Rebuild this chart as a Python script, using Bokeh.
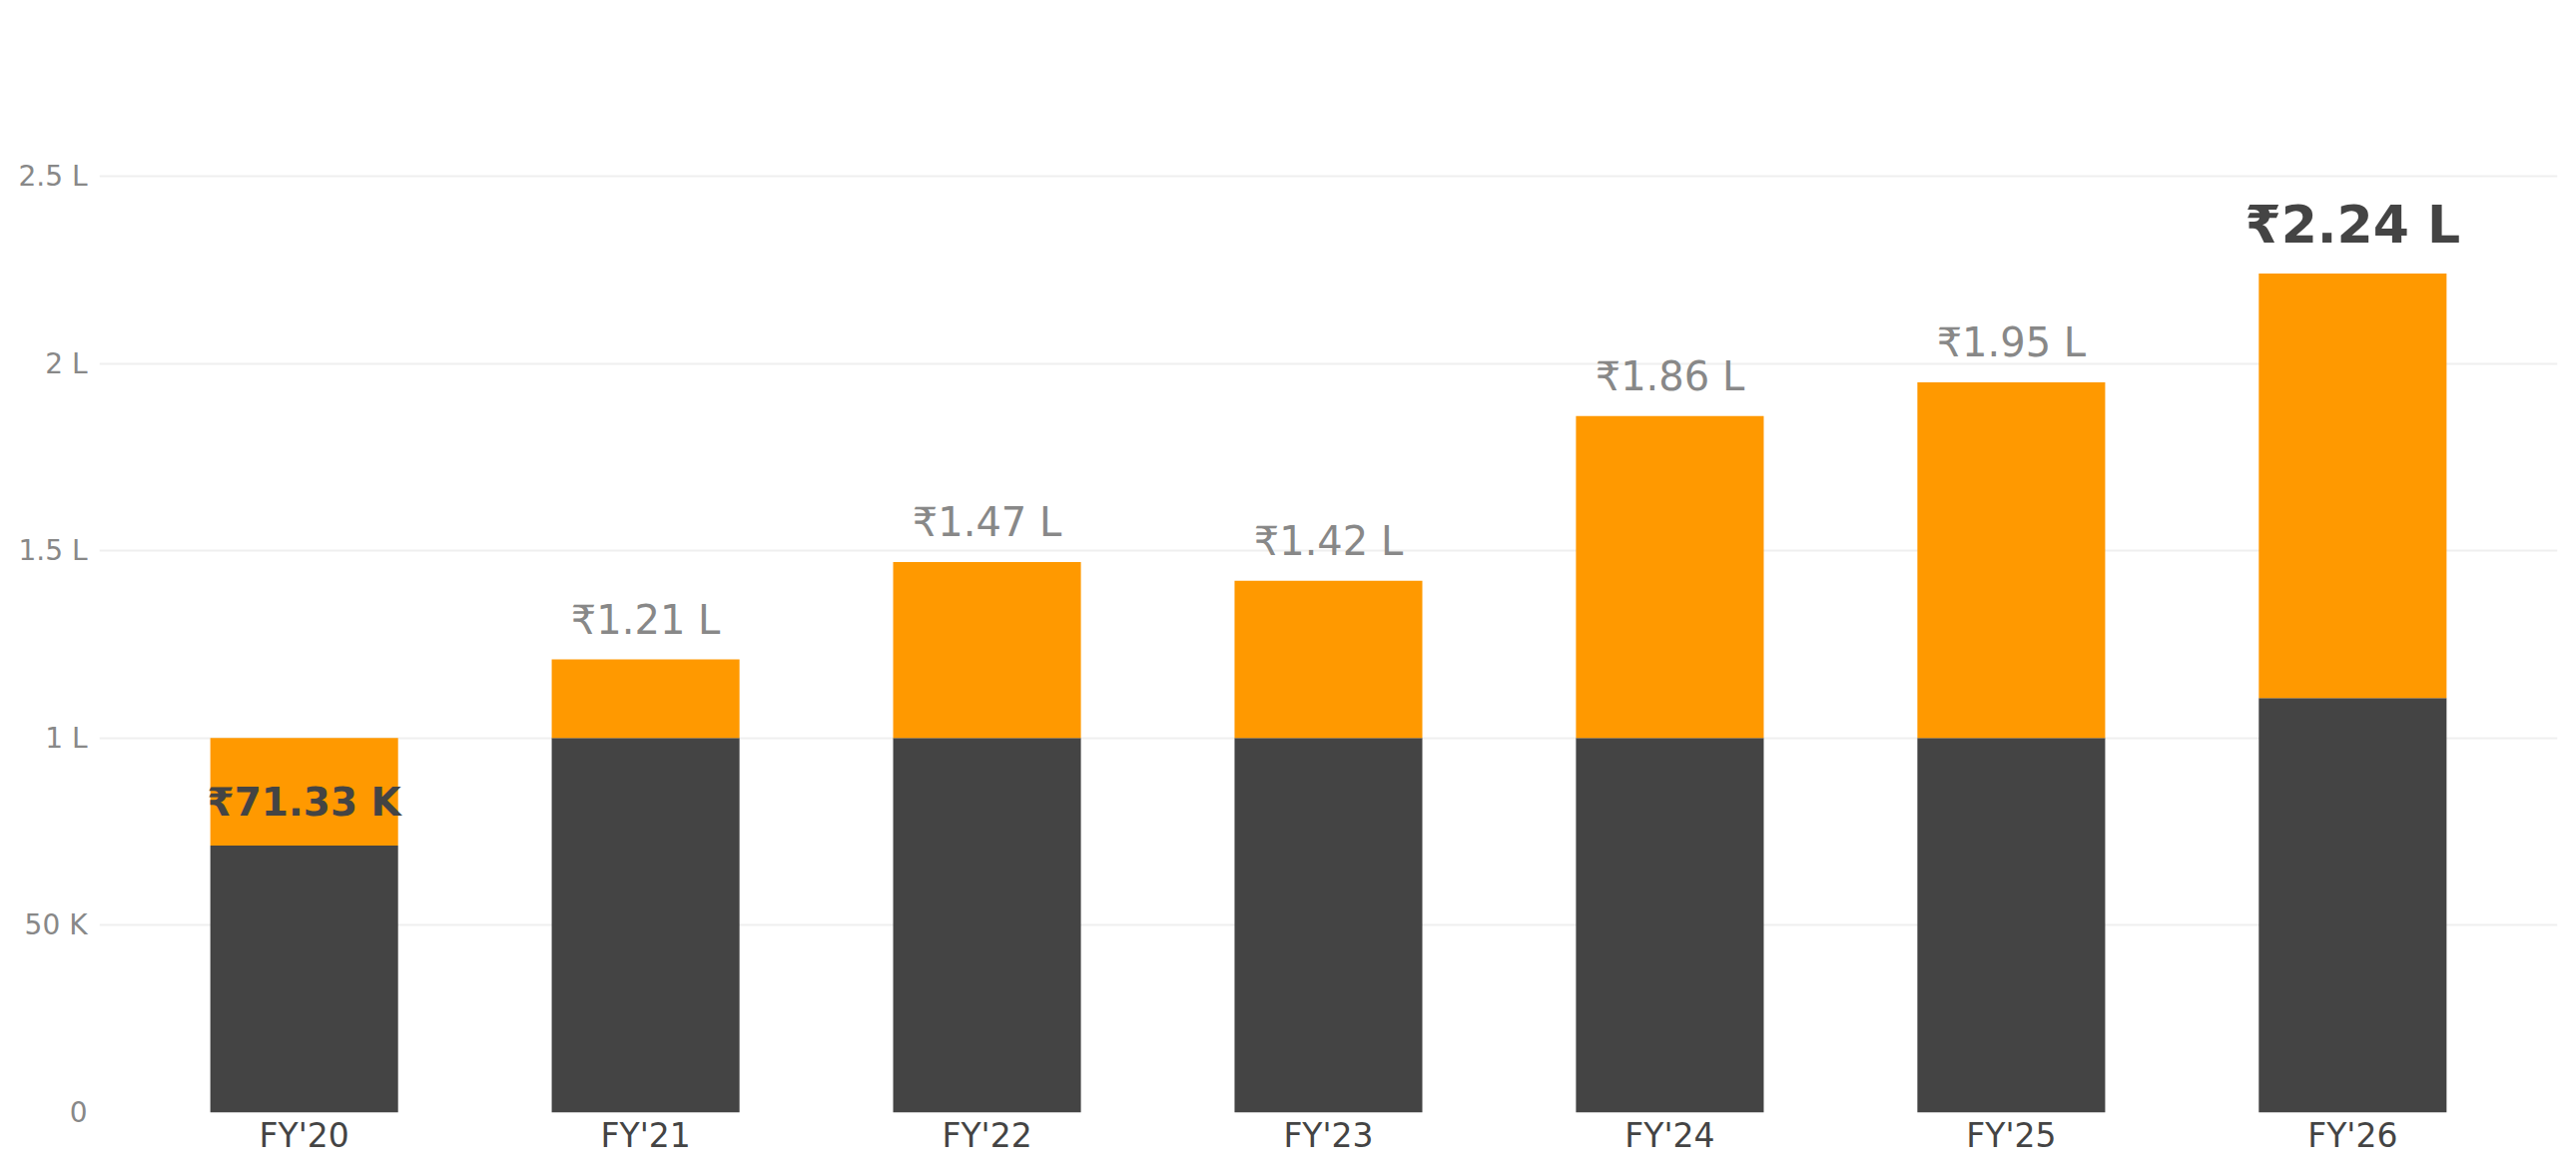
from bokeh.plotting import figure
from bokeh.models import FactorRange, Range1d, FixedTicker, ColumnDataSource
from bokeh.core.properties import value
from bokeh.embed import file_html
from bokeh.resources import INLINE

# ---- data ----
categories = ["FY'20", "FY'21", "FY'22", "FY'23", "FY'24", "FY'25", "FY'26"]
base_values = [71330, 100000, 100000, 100000, 100000, 100000, 110700]   # dark segment
upper_values = [28670, 21000, 47000, 42000, 86000, 95000, 113300]      # orange segment
bar_labels = ["₹71.33 K", "₹1.21 L", "₹1.47 L", "₹1.42 L", "₹1.86 L", "₹1.95 L", "₹2.24 L"]
y_tick_values = [0, 50000, 100000, 150000, 200000, 250000]
y_tick_labels = ["0", "50 K", "1 L", "1.5 L", "2 L", "2.5 L"]

totals = [b + u for b, u in zip(base_values, upper_values)]

FONT = "DejaVu Sans"
DARK = "#444444"
ORANGE = "#ff9900"
GRAY = "#888888"

p = figure(
    width=2564, height=1161,
    x_range=FactorRange(*categories, range_padding=0.1, range_padding_units="absolute"),
    y_range=Range1d(0, 289200),
    output_backend="svg", toolbar_location=None,
    min_border_left=99, min_border_right=3, min_border_top=29, min_border_bottom=47,
)
p.outline_line_color = None
p.background_fill_color = "white"
p.border_fill_color = "white"

src = ColumnDataSource(dict(cat=categories, base=base_values, top=totals))
p.vbar(x="cat", bottom=0, top="base", width=0.55, source=src, fill_color=DARK, line_color=None)
p.vbar(x="cat", bottom="base", top="top", width=0.55, source=src, fill_color=ORANGE, line_color=None)

# labels above bars (middle years)
mid_idx = list(range(1, len(categories) - 1))
p.text(x=[categories[i] for i in mid_idx], y=[totals[i] for i in mid_idx],
       text=[bar_labels[i] for i in mid_idx], y_offset=-40,
       text_align="center", text_baseline="alphabetic",
       text_font=value(FONT), text_font_size="40px", text_color=GRAY)

# first year label inside the orange segment
p.text(x=[categories[0]], y=[base_values[0]], text=[bar_labels[0]], y_offset=-43,
       text_align="center", text_baseline="alphabetic",
       text_font=value(FONT), text_font_size="39px", text_font_style="bold", text_color=DARK)

# last year label, emphasised
p.text(x=[categories[-1]], y=[totals[-1]], text=[bar_labels[-1]], y_offset=-49,
       text_align="center", text_baseline="alphabetic",
       text_font=value(FONT), text_font_size="52px", text_font_style="bold", text_color=DARK)

# axes
p.yaxis.ticker = FixedTicker(ticks=y_tick_values)
p.yaxis.major_label_overrides = {v: l for v, l in zip(y_tick_values, y_tick_labels)}
for ax in (p.xaxis, p.yaxis):
    ax.axis_line_color = None
    ax.major_tick_line_color = None
    ax.minor_tick_line_color = None
    ax.major_label_text_font = FONT
p.yaxis.major_label_text_font_size = "28px"
p.yaxis.major_label_text_color = GRAY
p.yaxis.major_label_standoff = 6
p.xaxis.major_label_text_font_size = "33px"
p.xaxis.major_label_text_color = DARK
p.xaxis.major_label_standoff = -3

p.xgrid.grid_line_color = None
p.ygrid.grid_line_color = "#efefef"
p.ygrid.grid_line_width = 2

open("out.html", "w").write(file_html(p, INLINE))
